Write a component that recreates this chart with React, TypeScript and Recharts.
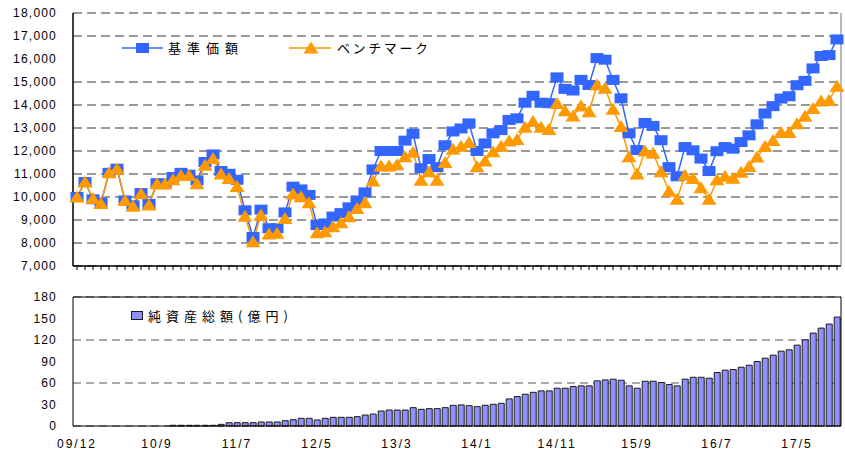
import React from 'react';
import { LineChart, Line, BarChart, Bar, XAxis, YAxis, CartesianGrid, ReferenceLine } from 'recharts';

// monthly categories, 09/11 .. 17/10
const months: string[] = [];
for (let k = 0; k < 96; k++) {
  const m = 10 + k;
  months.push(`${String(9 + Math.floor(m / 12)).padStart(2, '0')}/${(m % 12) + 1}`);
}

const tickMonths = ['09/11', '10/9', '11/7', '12/5', '13/3', '14/1', '14/11', '15/9', '16/7', '17/5'];
const tickLabels = ['09/12', '10/9', '11/7', '12/5', '13/3', '14/1', '14/11', '15/9', '16/7', '17/5'];

const navTicks = [7000, 8000, 9000, 10000, 11000, 12000, 13000, 14000, 15000, 16000, 17000, 18000];
const assetTicks = [0, 30, 60, 90, 120, 150, 180];

// 基準価額
const nav = [
  10000, 10650, 9900, 9750, 11050, 11230, 9850, 9640, 10170, 9700,
  10600, 10580, 10870, 11050, 10970, 10720, 11520, 11850, 11130, 11010,
  10750, 9420, 8260, 9450, 8640, 8640, 9330, 10450, 10330, 10090,
  8780, 8850, 9150, 9300, 9550, 9850, 10200, 11200, 12000, 12000,
  12000, 12450, 12750, 11250, 11650, 11300, 12250, 12850, 12980, 13200,
  12000, 12330, 12770, 12910, 13350, 13420, 14100, 14400, 14100, 14080,
  15200, 14700, 14630, 15090, 14870, 16040, 15970, 15090, 14290, 12770,
  12040, 13220, 13090, 12470, 11300, 10900, 12170, 12030, 11670, 11130,
  11990, 12170, 12100, 12390, 12680, 13160, 13630, 13950, 14280, 14380,
  14860, 15050, 15590, 16130, 16170, 16850,
];

// ベンチマーク
const bench = [
  10000, 10650, 9930, 9720, 11050, 11230, 9850, 9600, 10140, 9650,
  10580, 10560, 10750, 10940, 10930, 10580, 11380, 11670, 11000, 10800,
  10460, 9160, 8050, 9220, 8390, 8420, 9070, 10130, 10010, 9750,
  8450, 8490, 8710, 8880, 9140, 9500, 9750, 10700, 11350, 11350,
  11400, 11750, 11950, 10730, 11100, 10730, 11500, 12080, 12210, 12370,
  11310, 11570, 11970, 12210, 12440, 12500, 13030, 13280, 13030, 12940,
  14070, 13750, 13520, 13960, 13710, 14870, 14730, 13810, 13060, 11750,
  11000, 12000, 11900, 11100, 10250, 9900, 10950, 10800, 10400, 9900,
  10750, 10900, 10820, 11080, 11330, 11740, 12200, 12460, 12800, 12800,
  13190, 13510, 13850, 14170, 14200, 14820,
];

// 純資産総額(億円)
const assets = [
  null, null, null, null, null, null, null, null, null, null,
  null, null, 1, 1, 1, 1, 1, 1, 2.3, 4.6,
  4.6, 4.6, 4.6, 5.6, 5.6, 5.6, 7.4, 8.8, 10.7, 10.7,
  8.4, 10.7, 12.1, 12.1, 12.1, 13, 15.3, 16.7, 20.9, 22.3,
  22.3, 22.3, 25.6, 23.3, 24.2, 24.2, 25.6, 28.8, 29.4, 28.4,
  27, 28.9, 30.3, 31.7, 37.8, 41, 44.3, 47, 49, 49,
  52.7, 52.7, 55, 56, 56, 63, 64.3, 65.3, 63.9, 56,
  52.7, 62.5, 62.5, 60.6, 57.8, 56, 65.3, 68, 68, 66.7,
  74.6, 77.9, 78.8, 82, 84.8, 90, 94.6, 98.8, 104.4, 106.3,
  112.8, 120.3, 129.6, 136.6, 142.2, 152,
];

const rows = months.map((month, i) => ({ month, nav: nav[i], bench: bench[i], assets: assets[i] }));
const labelFor: Record<string, string> = {};
tickMonths.forEach((m, i) => { labelFor[m] = tickLabels[i]; });

const BLUE = '#3366ff';
const ORANGE = '#ff9900';
const FONT = '"Liberation Sans", Arial, sans-serif';
const JP = '"Noto Sans CJK JP", sans-serif';

const fmt = (v: number) => v.toLocaleString('en-US');

const SquareDot = (p: any) => {
  if (p.cx == null || p.cy == null) return <g key={`s${p.index}`} />;
  return <rect key={`s${p.index}`} x={p.cx - 6.5} y={p.cy - 5} width={13} height={10} fill={BLUE} />;
};

const TriangleDot = (p: any) => {
  if (p.cx == null || p.cy == null) return <g key={`t${p.index}`} />;
  const { cx, cy } = p;
  return (
    <polygon
      key={`t${p.index}`}
      points={`${cx},${cy - 6.5} ${cx + 7.5},${cy + 5.5} ${cx - 7.5},${cy + 5.5}`}
      fill={ORANGE}
    />
  );
};

const tickStyle = { fill: '#000', fontSize: 12, letterSpacing: 1.2, fontFamily: FONT };

export default function App() {
  return (
    <div style={{ position: 'absolute', left: 0, top: 0, width: 845, height: 452, background: '#fff', fontFamily: FONT }}>
      <div style={{ position: 'absolute', left: 0, top: 0 }}>
        <LineChart width={845} height={275} data={rows} margin={{ top: 13, right: 0, bottom: 0, left: 0 }}>
          <CartesianGrid vertical={false} stroke="#7a7a7a" strokeWidth={1.6} strokeDasharray="9 5" />
          <XAxis
            dataKey="month"
            interval={0}
            tickFormatter={() => ''}
            tickSize={4}
            height={9}
            padding={{ left: 4, right: 4 }}
            axisLine={{ stroke: '#000', strokeWidth: 1.5 }}
            tickLine={{ stroke: '#000' }}
          />
          <YAxis
            domain={[7000, 18000]}
            ticks={navTicks}
            width={73}
            tickLine={false}
            tickSize={0}
            tickMargin={16}
            axisLine={{ stroke: '#000', strokeWidth: 1.5 }}
            tick={tickStyle}
            tickFormatter={fmt}
          />
          <YAxis yAxisId="frame" orientation="right" domain={[7000, 18000]} width={4} tick={false} tickLine={false} axisLine={{ stroke: '#777' }} />
          <Line dataKey="nav" stroke={BLUE} strokeWidth={1.5} dot={SquareDot} activeDot={false} isAnimationActive={false} />
          <Line dataKey="bench" stroke={ORANGE} strokeWidth={1.5} dot={TriangleDot} activeDot={false} isAnimationActive={false} />
        </LineChart>
      </div>

      {/* top legend */}
      <svg style={{ position: 'absolute', left: 120, top: 38 }} width={330} height={20}>
        <line x1={2} y1={10} x2={43} y2={10} stroke={BLUE} strokeWidth={1.5} />
        <rect x={16} y={5} width={13} height={10} fill={BLUE} />
        <text x={48} y={15} fontSize={13} letterSpacing={6} fontFamily={JP} fill="#000">基準価額</text>
        <line x1={169} y1={10} x2={211} y2={10} stroke={ORANGE} strokeWidth={1.5} />
        <polygon points="191,3.5 198.5,15.5 183.5,15.5" fill={ORANGE} />
        <text x={217} y={15} fontSize={13} letterSpacing={2.6} fontFamily={JP} fill="#000">ベンチマーク</text>
      </svg>

      <div style={{ position: 'absolute', left: 0, top: 280 }}>
        <BarChart width={845} height={172} data={rows} margin={{ top: 17, right: 0, bottom: 0, left: 0 }} barCategoryGap={1.2}>
          <CartesianGrid vertical={false} stroke="#555" strokeDasharray="8 5" />
          <XAxis
            dataKey="month"
            ticks={tickMonths}
            interval={0}
            tickFormatter={(v: string) => labelFor[v] ?? ''}
            height={26}
            tickLine={false}
            tickSize={0}
            tickMargin={13}
            axisLine={{ stroke: '#000' }}
            tick={{ ...tickStyle, letterSpacing: 2 }}
          />
          <YAxis
            domain={[0, 180]}
            ticks={assetTicks}
            width={73}
            tickLine={false}
            tickSize={0}
            tickMargin={16}
            axisLine={{ stroke: '#000' }}
            tick={tickStyle}
          />
          <YAxis yAxisId="frame" orientation="right" domain={[0, 180]} width={4} tick={false} tickLine={false} axisLine={{ stroke: '#000' }} />
          <ReferenceLine y={180} stroke="#000" />
          <Bar dataKey="assets" fill="#9090ff" stroke="#1a1a1a" strokeWidth={1} isAnimationActive={false} />
        </BarChart>
      </div>

      {/* bottom legend */}
      <div
        style={{
          position: 'absolute', left: 125, top: 308, width: 170, height: 15, background: '#fff',
          display: 'flex', alignItems: 'center',
        }}
      >
        <div style={{ width: 10, height: 7, background: '#9090ff', border: '1px solid #1a1a1a', marginLeft: 6, marginRight: 5 }} />
        <span style={{ fontFamily: JP, fontSize: 13, letterSpacing: 5, lineHeight: '15px', whiteSpace: 'nowrap' }}>純資産総額(億円)</span>
      </div>
    </div>
  );
}
